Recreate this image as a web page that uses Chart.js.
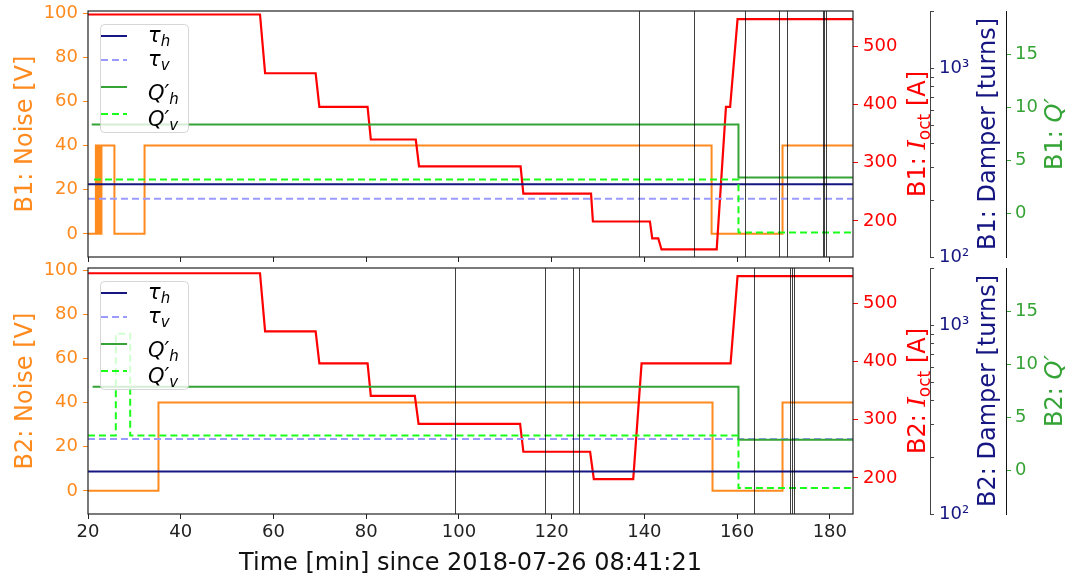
<!DOCTYPE html>
<html>
<head>
<meta charset="utf-8">
<script src="https://cdn.jsdelivr.net/npm/chart.js@4.4.0/dist/chart.umd.min.js"></script>
<style>
  body { margin: 0; background: #fff; }
  canvas { display: block; }
</style>
</head>
<body>
<canvas id="beam1" width="1078" height="262"></canvas>
<canvas id="beam2" width="1078" height="316"></canvas>
<script>
// tick values
const timeTicks = [20, 40, 60, 80, 100, 120, 140, 160, 180];
const noiseTicks = [0, 20, 40, 60, 80, 100];
const octTicks = [200, 300, 400, 500];
const damperTicks = [100, 200, 300, 400, 500, 600, 700, 800, 900, 1000, 2000];
const chromaTicks = [0, 5, 10, 15];

// beam 1
const b1OctT = [20, 57.1, 58.2, 69.1, 69.9, 80.3, 81.0, 90.7, 91.4, 113.3, 113.9, 128.5, 128.9, 141.2, 141.7, 143.0, 143.7, 155.6, 157.6, 158.5, 160.1, 185];
const b1OctA = [555, 555, 454, 454, 396, 396, 340, 340, 294, 294, 247, 247, 199, 199, 170, 170, 151, 151, 396, 396, 547, 547];
const b1NoiseT = [20, 21.7, 21.8, 21.9, 22.0, 22.1, 22.2, 22.3, 22.4, 22.5, 22.6, 22.7, 22.8, 22.9, 25.7, 32.2, 154.5, 169.8, 185];
const b1NoiseV = [0, 40, 0, 40, 0, 40, 0, 40, 0, 40, 0, 40, 0, 40, 0, 40, 0, 40, 40];
const b1TauT = [20, 185];
const b1TauH = [243, 243];
const b1TauV = [204, 204];
const b1QhT = [20.8, 160.3, 185];
const b1QhV = [8.4, 3.4, 3.4];
const b1QvT = [21.3, 160.3, 185];
const b1QvV = [3.2, -1.8, -1.8];
const b1Events = [138.85, 150.65, 161.65, 169.1, 170.7, 178.5, 178.75, 179.2];

// beam 2
const b2OctT = [20, 57.1, 58.2, 69.1, 69.9, 80.3, 81.0, 90.5, 91.3, 113.2, 113.9, 128.3, 129.1, 137.6, 139.4, 158.6, 160.1, 185];
const b2OctA = [552, 552, 452, 452, 397, 397, 341, 341, 293, 293, 245, 245, 198, 198, 397, 397, 547, 547];
const b2NoiseT = [20, 35.2, 154.7, 169.8, 185];
const b2NoiseV = [0, 40, 0, 40, 40];
const b2TauT = [20, 185];
const b2TauH = [168, 168];
const b2TauV = [250, 250];
const b2QhT = [21, 160.3, 185];
const b2QhV = [7.9, 2.9, 2.9];
const b2QvT = [20, 26.0, 29.1, 160.3, 185];
const b2QvV = [3.3, 12.9, 3.3, -1.65, -1.65];
const b2Events = [99.2, 118.6, 124.7, 126.0, 163.65, 171.4, 171.9, 172.3];

const ORANGE = '#ff8a1e', RED = '#ff0000', NAVY = '#161682', LIGHTBLUE = '#9a9aff', GREEN = '#36a336', LIME = '#1aff1a';
const SANS = "'DejaVu Sans', sans-serif";

Chart.defaults.font.family = SANS;
Chart.defaults.font.size = 18;

function series(t, v) {
  return t.map((x, i) => ({x: x, y: v[i]}));
}

function useTicks(list) {
  return function(scale) { scale.ticks = list.map(v => ({value: v})); };
}

// fixed box sizes so both panels line up
function fixSize(w, h) {
  return function(scale) {
    if (w != null) scale.width = w;
    if (h != null) scale.height = h;
    scale.paddingTop = 0; scale.paddingBottom = 0;
    scale.paddingLeft = 0; scale.paddingRight = 0;
  };
}

// text made of pieces with their own font / offset (subscripts, italics)
function rich(c, parts, x, y, color, rotate, leftAlign) {
  c.save();
  c.translate(x, y);
  if (rotate) c.rotate(-Math.PI / 2);
  let w = 0;
  parts.forEach(p => {
    c.font = p.f || ('24px ' + SANS);
    p.w = c.measureText(p.t).width;
    w += p.w;
  });
  let cx = leftAlign ? 0 : -w / 2;
  c.textAlign = 'left';
  c.textBaseline = 'alphabetic';
  c.fillStyle = color;
  parts.forEach(p => {
    c.font = p.f || ('24px ' + SANS);
    c.fillText(p.t, cx, p.dy || 0);
    cx += p.w;
  });
  c.restore();
}

const MATH = 'italic 21px ' + SANS, SUB = 'italic 15px ' + SANS;
const legendRows = [
  {color: NAVY, dash: [], parts: [{t: 'τ', f: MATH}, {t: 'h', f: SUB, dy: 4}], y: 12, base: 6},
  {color: LIGHTBLUE, dash: [7, 4], parts: [{t: 'τ', f: MATH}, {t: 'v', f: SUB, dy: 4}], y: 36, base: 6},
  {color: GREEN, dash: [], parts: [{t: 'Q′', f: MATH}, {t: 'h', f: SUB, dy: 4}], y: 63, base: 13},
  {color: LIME, dash: [7, 4], parts: [{t: 'Q′', f: MATH}, {t: 'v', f: SUB, dy: 4}], y: 90, base: 12}
];

function panelDecor(name, events, bottom) {
  return {
    id: 'panelDecor',
    afterDatasetsDraw(chart) {
      const a = chart.chartArea, c = chart.ctx, xs = chart.scales.x;
      c.save();
      c.strokeStyle = 'rgba(0,0,0,0.75)';
      c.lineWidth = 1;
      events.forEach(t => {
        const x = Math.round(xs.getPixelForValue(t)) + 0.5;
        c.beginPath(); c.moveTo(x, a.top); c.lineTo(x, a.bottom); c.stroke();
      });
      c.restore();
    },
    afterDraw(chart) {
      const a = chart.chartArea, c = chart.ctx;
      // legend box
      const lx = a.left + 12, ly = a.top + 13;
      c.save();
      c.beginPath();
      if (c.roundRect) c.roundRect(lx + 0.5, ly + 0.5, 88, 108, 4); else c.rect(lx + 0.5, ly + 0.5, 88, 108);
      c.fillStyle = 'rgba(255,255,255,0.8)';
      c.fill();
      c.strokeStyle = 'rgba(204,204,204,0.8)';
      c.lineWidth = 1;
      c.stroke();
      legendRows.forEach(r => {
        const y = ly + r.y;
        c.beginPath();
        c.setLineDash(r.dash);
        c.strokeStyle = r.color;
        c.lineWidth = 2;
        c.moveTo(lx + 1, y); c.lineTo(lx + 27, y);
        c.stroke();
        c.setLineDash([]);
        rich(c, r.parts, lx + 48, y + r.base, '#000', false, true);
      });
      // frame
      c.strokeStyle = '#222';
      c.lineWidth = 1.2;
      c.strokeRect(a.left, a.top, a.right - a.left, a.bottom - a.top);
      c.restore();

      // axis titles
      const midY = (a.top + a.bottom) / 2;
      rich(c, [{t: name + ': Noise [V]'}], a.left - 56, midY, ORANGE, true);
      rich(c, [{t: name + ': '}, {t: 'I', f: "italic 24px 'DejaVu Serif'"}, {t: 'oct', f: '17px ' + SANS, dy: 5}, {t: ' [A]'}],
        a.right + 72, midY, RED, true);
      rich(c, [{t: name + ': Damper [turns]'}], chart.scales.damper.left + 65, midY, NAVY, true);
      rich(c, [{t: name + ': '}, {t: 'Q′', f: 'italic 24px ' + SANS}], chart.scales.qp.left + 56, midY, GREEN, true);
      if (bottom) {
        rich(c, [{t: 'Time [min] since 2018-07-26 08:41:21'}], (a.left + a.right) / 2, chart.height - 8, '#111', false);
      }
    }
  };
}

function drawPanel(id, name, d, bottom) {
  const ctx = document.getElementById(id).getContext('2d');
  // stepped 'before': each value holds until the next time stamp
  return new Chart(ctx, {
    type: 'line',
    data: {
      datasets: [
        {data: series(d.qvT, d.qvV), yAxisID: 'qp', borderColor: LIME, borderDash: [7, 4], stepped: 'before'},
        {data: series(d.qhT, d.qhV), yAxisID: 'qp', borderColor: GREEN, stepped: 'before'},
        {data: series(d.tauT, d.tauV), yAxisID: 'damper', borderColor: LIGHTBLUE, borderDash: [7, 4]},
        {data: series(d.tauT, d.tauH), yAxisID: 'damper', borderColor: NAVY},
        {data: series(d.octT, d.octA), yAxisID: 'ioct', borderColor: RED, borderWidth: 2.2},
        {data: series(d.noiseT, d.noiseV), yAxisID: 'noise', borderColor: ORANGE, stepped: 'before'}
      ]
    },
    plugins: [panelDecor(name, d.events, bottom)],
    options: {
      responsive: false,
      animation: false,
      devicePixelRatio: 1,
      events: [],
      layout: {padding: {top: bottom ? 6 : 11, left: 0, right: 0, bottom: 0}},
      elements: {point: {radius: 0}, line: {borderWidth: 2, tension: 0, fill: false}},
      plugins: {legend: {display: false}, tooltip: {enabled: false}},
      scales: {
        x: {
          type: 'linear', min: 20, max: 185,
          afterBuildTicks: useTicks(timeTicks),
          afterFit: fixSize(null, bottom ? 64 : 5),
          ticks: {display: bottom, color: '#222', padding: 3},
          grid: {drawOnChartArea: false, tickLength: 5, tickColor: '#222'},
          border: {display: false}
        },
        noise: {
          type: 'linear', position: 'left', min: -10.5, max: 101,
          afterBuildTicks: useTicks(noiseTicks),
          afterFit: fixSize(88, null),
          ticks: {color: ORANGE, padding: 5},
          grid: {drawOnChartArea: false, tickLength: 5, tickColor: ORANGE},
          border: {display: false}
        },
        ioct: {
          type: 'linear', position: 'right', weight: 0, min: 138, max: 561,
          afterBuildTicks: useTicks(octTicks),
          afterFit: fixSize(77, null),
          ticks: {color: RED, padding: 5},
          grid: {drawOnChartArea: false, tickLength: 5, tickColor: RED},
          border: {display: false}
        },
        damper: {
          type: 'logarithmic', position: 'right', weight: 1, min: 100, max: 2020,
          afterBuildTicks: useTicks(damperTicks),
          afterFit: fixSize(76, null),
          ticks: {
            color: NAVY, padding: 5, autoSkip: false,
            callback: v => v === 100 ? '10²' : (v === 1000 ? '10³' : '')
          },
          grid: {drawOnChartArea: false, tickLength: 4, tickColor: '#444'},
          border: {display: true, color: '#444', width: 1}
        },
        qp: {
          type: 'linear', position: 'right', weight: 2, min: -4.1, max: 19.1,
          afterBuildTicks: useTicks(chromaTicks),
          afterFit: fixSize(72, null),
          ticks: {color: GREEN, padding: 4},
          grid: {drawOnChartArea: false, tickLength: 5, tickColor: GREEN},
          border: {display: true, color: '#111', width: 1}
        }
      }
    }
  });
}

drawPanel('beam1', 'B1', {
  octT: b1OctT, octA: b1OctA, noiseT: b1NoiseT, noiseV: b1NoiseV,
  tauT: b1TauT, tauH: b1TauH, tauV: b1TauV,
  qhT: b1QhT, qhV: b1QhV, qvT: b1QvT, qvV: b1QvV, events: b1Events
}, false);

drawPanel('beam2', 'B2', {
  octT: b2OctT, octA: b2OctA, noiseT: b2NoiseT, noiseV: b2NoiseV,
  tauT: b2TauT, tauH: b2TauH, tauV: b2TauV,
  qhT: b2QhT, qhV: b2QhV, qvT: b2QvT, qvV: b2QvV, events: b2Events
}, true);
</script>
</body>
</html>
